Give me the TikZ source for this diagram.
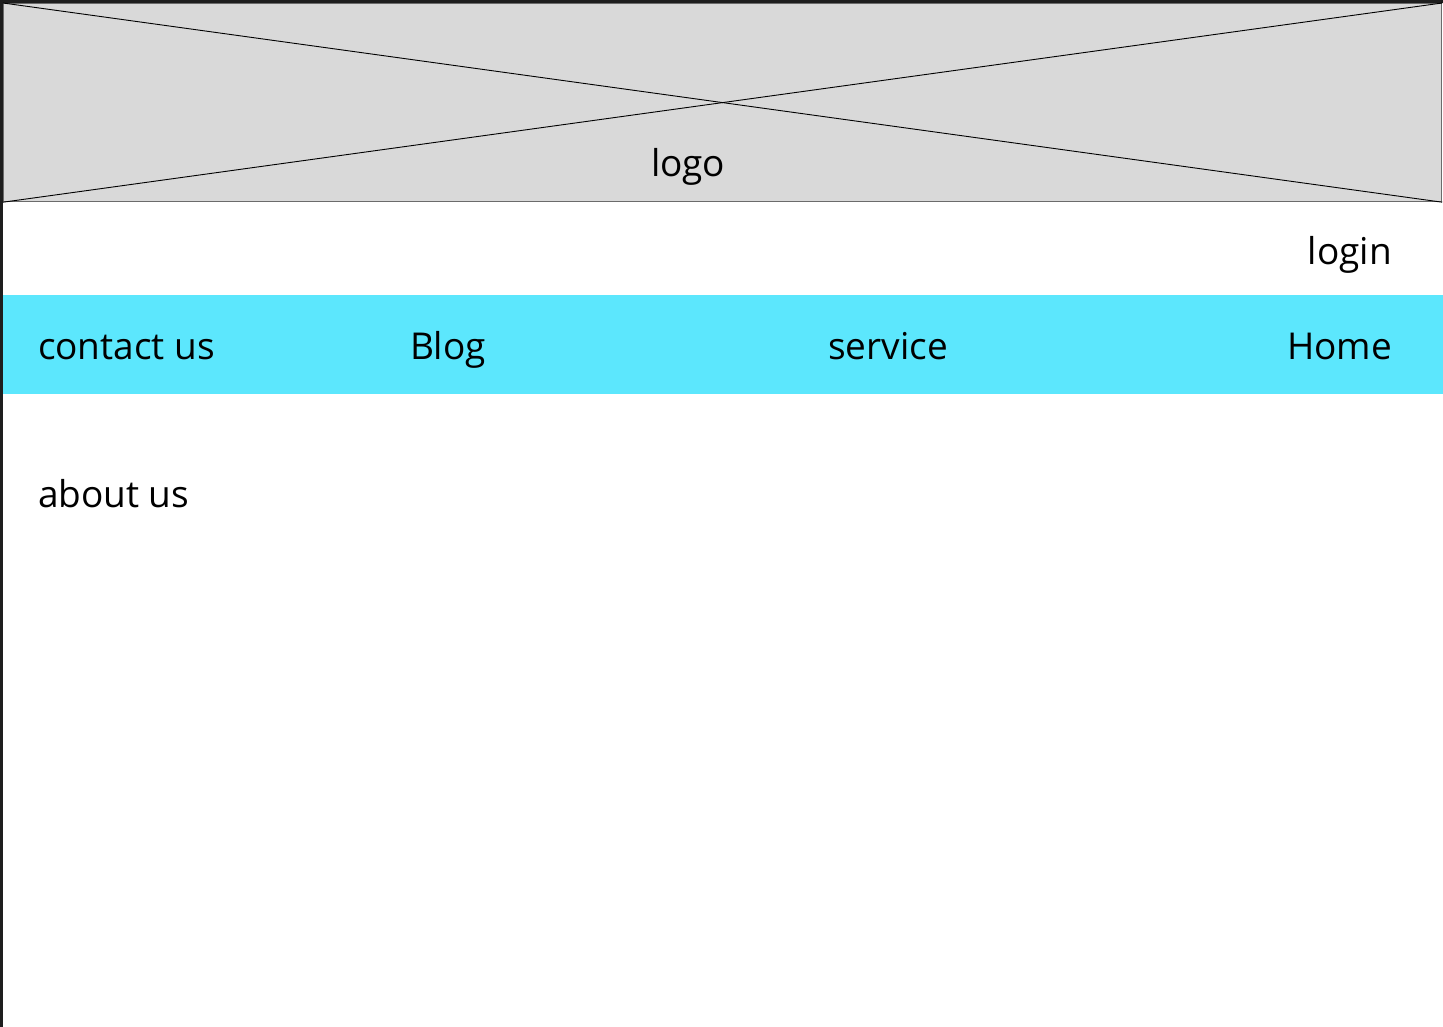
\documentclass[tikz,border=0pt]{standalone}
\usepackage{fontspec}
\setmainfont{Open Sans}
\definecolor{frame}{HTML}{1E1E1E}
\definecolor{boxgray}{HTML}{D9D9D9}
\definecolor{boxline}{HTML}{6B6B6B}
\definecolor{navcyan}{HTML}{5CE7FD}
\tikzset{
  lbl/.style={inner sep=0pt, outer sep=0pt, font=\fontsize{37}{44}\selectfont, text=black},
}
\begin{document}
\begin{tikzpicture}[x=1pt,y=-1pt]
\useasboundingbox (0,0) rectangle (1443,1027);
\fill[white] (0,0) rectangle (1443,1027);
% outer frame
\fill[frame] (0,0) rectangle (3,1027);
\fill[frame] (0,0) rectangle (1443,3);
% logo placeholder
\node[draw=boxline, line width=1.2pt, fill=boxgray, minimum width=1438pt, minimum height=198pt, inner sep=0pt, anchor=north west] (logobox) at (3,3) {};
\draw[line width=0.9pt] (logobox.north west) -- (logobox.south east);
\draw[line width=0.9pt] (logobox.south west) -- (logobox.north east);
\node[lbl, anchor=base west] (logo) at (651,177) {logo};
% login
\node[lbl, anchor=base east] (login) at (1392,264) {login};
% nav bar
\node[fill=navcyan, minimum width=1440pt, minimum height=99pt, inner sep=0pt, anchor=north west] (nav) at (3,295) {};
\node[lbl, anchor=base west] (contact) at (38,359) {contact us};
\node[lbl, anchor=base west] (blog) at (410,359) {Blog};
\node[lbl, anchor=base west] (service) at (828,359) {service};
\node[lbl, anchor=base east] (home) at (1392,359) {Home};
% about
\node[lbl, anchor=base west] (about) at (38,507) {about us};
\end{tikzpicture}
\end{document}
